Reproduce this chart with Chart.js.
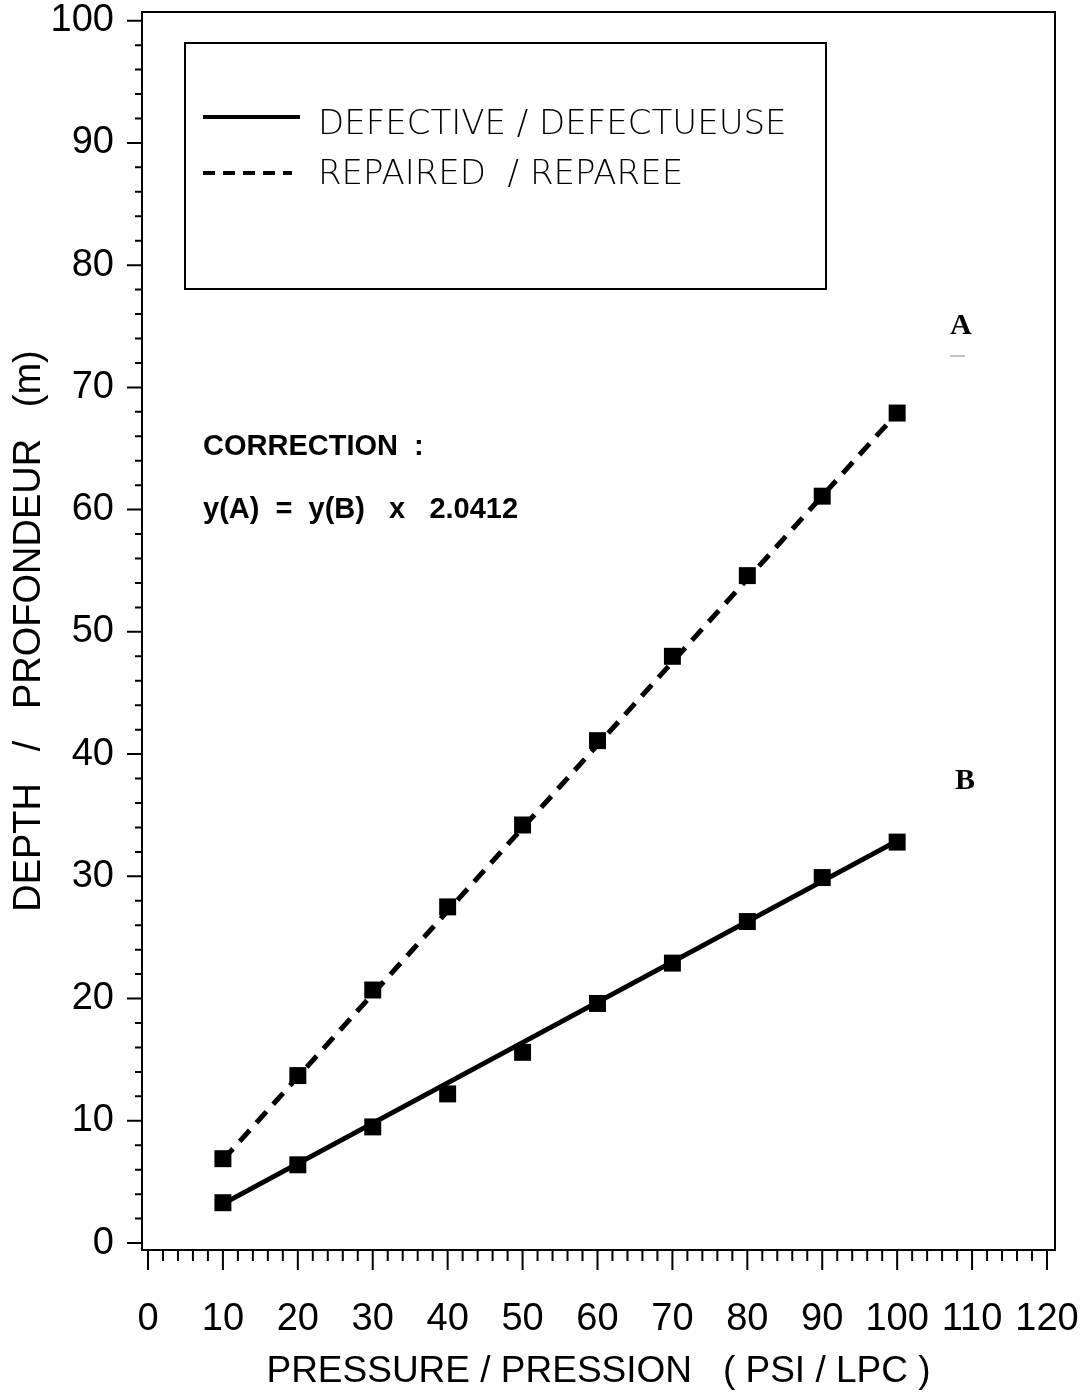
<!DOCTYPE html>
<html>
<head>
<meta charset="utf-8">
<script src="https://cdn.jsdelivr.net/npm/chart.js@4.4.1/dist/chart.umd.min.js"></script>
<style>
  body { margin: 0; background: #fff; }
  #wrap { width: 1081px; height: 1397px; }
</style>
</head>
<body>
<div id="wrap"><canvas id="depthChart" width="1081" height="1397"></canvas></div>
<script>
// Pressure readings (PSI / LPC)
const pressures = [10, 20, 30, 40, 50, 60, 70, 80, 90, 100];
// Depth read by the repaired gauge (A) and the defective gauge (B)
const repairedDepth = [6.9, 13.7, 20.7, 27.5, 34.2, 41.1, 48.0, 54.6, 61.1, 67.9];
const defectiveDepth = [3.3, 6.4, 9.5, 12.2, 15.6, 19.6, 22.9, 26.3, 29.9, 32.8];
// Fitted lines (end points)
const fitPressures = [10, 100];
const repairedFit = [6.8, 67.9];
const defectiveFit = [3.2, 32.9];

// Axis ticks
const xMajorTicks = [0, 10, 20, 30, 40, 50, 60, 70, 80, 90, 100, 110, 120];
const yMajorTicks = [0, 10, 20, 30, 40, 50, 60, 70, 80, 90, 100];

const seriesLabels = ['DEFECTIVE / DEFECTUEUSE', 'REPAIRED  / REPAREE'];

const tickFont = '"Liberation Sans Narrow", "Liberation Sans", Arial, sans-serif';

function toPoints(xs, ys) {
    return xs.map((x, i) => ({ x: x, y: ys[i] }));
}

function minorTicks(max) {
    const out = [];
    for (let v = 0; v <= max; v += 2) out.push(v);
    return out;
}

// Frame, tick marks, legend box and text notes
const decorations = {
    id: 'decorations',
    afterDraw(chart) {
        const ctx = chart.ctx;
        const area = chart.chartArea;
        const xs = chart.scales.x;
        const ys = chart.scales.y;
        ctx.save();
        ctx.strokeStyle = '#000';
        ctx.lineWidth = 2;
        ctx.strokeRect(area.left, area.top, area.right - area.left, area.bottom - area.top);

        // tick marks
        ctx.beginPath();
        minorTicks(120).forEach(v => {
            const px = xs.getPixelForValue(v);
            const len = v % 10 === 0 ? 20 : 11;
            ctx.moveTo(px, area.bottom);
            ctx.lineTo(px, area.bottom + len);
        });
        minorTicks(100).forEach(v => {
            const py = ys.getPixelForValue(v);
            const len = v % 10 === 0 ? 15 : 7;
            ctx.moveTo(area.left, py);
            ctx.lineTo(area.left - len, py);
        });
        ctx.stroke();

        // legend box
        ctx.strokeRect(185, 43, 641, 246);
        ctx.lineWidth = 4;
        ctx.beginPath();
        ctx.moveTo(203, 117);
        ctx.lineTo(300, 117);
        ctx.stroke();
        ctx.setLineDash([12, 8]);
        ctx.beginPath();
        ctx.moveTo(203, 173);
        ctx.lineTo(292, 173);
        ctx.stroke();
        ctx.setLineDash([]);
        ctx.fillStyle = '#000';
        ctx.font = '300 34px "DejaVu Sans", sans-serif';
        ctx.textBaseline = 'middle';
        ctx.textAlign = 'left';
        ctx.fillText(seriesLabels[0], 318, 125);
        ctx.fillText(seriesLabels[1], 318, 175);

        // correction note
        ctx.font = 'bold 29px "Liberation Sans Narrow", "Liberation Sans", Arial, sans-serif';
        ctx.textBaseline = 'alphabetic';
        ctx.fillText('CORRECTION  :', 203, 455);
        ctx.fillText('y(A)  =  y(B)   x   2.0412', 203, 518);

        // curve labels
        ctx.font = 'bold 30px "Liberation Serif", "Times New Roman", serif';
        ctx.fillText('A', 950, 334);
        ctx.fillText('B', 955, 789);
        ctx.strokeStyle = '#888';
        ctx.lineWidth = 1;
        ctx.beginPath();
        ctx.moveTo(950, 356);
        ctx.lineTo(965, 356);
        ctx.stroke();
        ctx.restore();
    }
};

new Chart(document.getElementById('depthChart').getContext('2d'), {
    type: 'scatter',
    data: {
        datasets: [
            {
                label: seriesLabels[0] + ' fit',
                type: 'line',
                data: toPoints(fitPressures, defectiveFit),
                borderColor: '#000',
                borderWidth: 5,
                pointRadius: 0,
                fill: false
            },
            {
                label: seriesLabels[1] + ' fit',
                type: 'line',
                data: toPoints(fitPressures, repairedFit),
                borderColor: '#000',
                borderWidth: 5,
                borderDash: [15, 10],
                pointRadius: 0,
                fill: false
            },
            {
                label: seriesLabels[0],
                data: toPoints(pressures, defectiveDepth),
                pointStyle: 'rect',
                pointRadius: 12,
                backgroundColor: '#000',
                borderColor: '#000',
                borderWidth: 0
            },
            {
                label: seriesLabels[1],
                data: toPoints(pressures, repairedDepth),
                pointStyle: 'rect',
                pointRadius: 12,
                backgroundColor: '#000',
                borderColor: '#000',
                borderWidth: 0
            }
        ]
    },
    options: {
        responsive: false,
        animation: false,
        layout: { padding: { top: 12, right: 26, left: 0, bottom: 0 } },
        plugins: {
            legend: { display: false },
            tooltip: { enabled: false }
        },
        scales: {
            x: {
                type: 'linear',
                min: -0.8,
                max: 121.07,
                afterBuildTicks: scale => { scale.ticks = xMajorTicks.map(v => ({ value: v })); },
                afterFit: scale => {
                    scale.height = 147;
                    scale.paddingLeft = 0;
                    scale.paddingRight = 0;
                },
                grid: { display: false },
                border: { display: false },
                ticks: {
                    autoSkip: false,
                    maxRotation: 0,
                    padding: 39,
                    color: '#000',
                    font: { family: tickFont, size: 38 }
                },
                title: {
                    display: true,
                    text: 'PRESSURE / PRESSION   ( PSI / LPC )',
                    color: '#000',
                    font: { family: tickFont, size: 37 },
                    padding: { top: 0, bottom: 3 }
                }
            },
            y: {
                type: 'linear',
                min: -0.57,
                max: 100.71,
                afterBuildTicks: scale => { scale.ticks = yMajorTicks.map(v => ({ value: v })); },
                afterFit: scale => {
                    scale.width = 142;
                    scale.paddingTop = 0;
                    scale.paddingBottom = 0;
                },
                grid: { display: false },
                border: { display: false },
                ticks: {
                    autoSkip: false,
                    padding: 20,
                    color: '#000',
                    font: { family: tickFont, size: 38 }
                },
                title: {
                    display: true,
                    text: 'DEPTH   /   PROFONDEUR   (m)',
                    color: '#000',
                    font: { family: tickFont, size: 38 },
                    padding: { top: 7, bottom: 0 }
                }
            }
        }
    },
    plugins: [decorations]
});
</script>
</body>
</html>
